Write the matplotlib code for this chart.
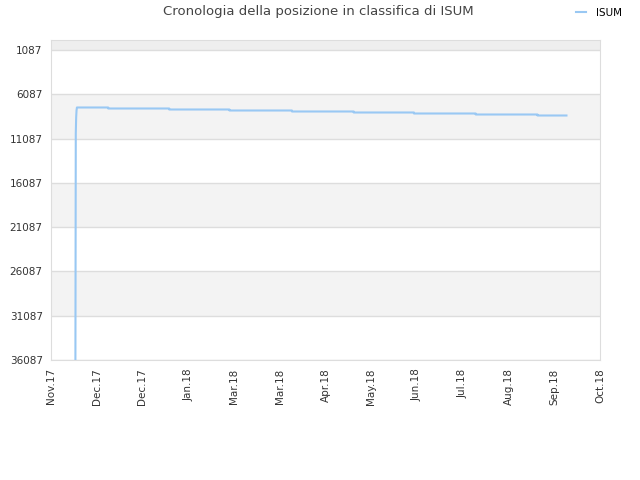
import datetime as dt
import matplotlib
matplotlib.use("Agg")
import matplotlib.pyplot as plt
import matplotlib.dates as mdates

# rank history (dates, positions)
dates = [
    dt.datetime(2017, 11, 17, 0), dt.datetime(2017, 11, 17, 6), dt.datetime(2017, 11, 17, 12),
    dt.datetime(2017, 11, 17, 18), dt.datetime(2017, 11, 18),
    dt.datetime(2017, 12, 8, 12), dt.datetime(2017, 12, 8, 12),
    dt.datetime(2018, 1, 17, 12), dt.datetime(2018, 1, 17, 12),
    dt.datetime(2018, 2, 26), dt.datetime(2018, 2, 26),
    dt.datetime(2018, 4, 8), dt.datetime(2018, 4, 8),
    dt.datetime(2018, 5, 18, 12), dt.datetime(2018, 5, 18, 12),
    dt.datetime(2018, 6, 27), dt.datetime(2018, 6, 27),
    dt.datetime(2018, 8, 6, 12), dt.datetime(2018, 8, 6, 12),
    dt.datetime(2018, 9, 16), dt.datetime(2018, 9, 16),
    dt.datetime(2018, 10, 5),
]
ranks = [
    37000, 10500, 8700, 7900, 7578,
    7578, 7691,
    7691, 7804,
    7804, 7917,
    7917, 8030,
    8030, 8143,
    8143, 8256,
    8256, 8369,
    8369, 8482,
    8482,
]
yticks = [1087, 6087, 11087, 16087, 21087, 26087, 31087, 36087]
tick_start = dt.datetime(2017, 11, 1)
tick_days = 30
n_ticks = 13

fig = plt.figure(figsize=(6.4, 4.8), dpi=100)
ax = fig.add_axes([51 / 640, 120 / 480, 549 / 640, 320 / 480])

ymin, ymax = -42, 36087
ax.set_ylim(ymax, ymin)
xticks = [tick_start + dt.timedelta(days=tick_days * i) for i in range(n_ticks)]
ax.set_xlim(xticks[0], xticks[-1])

# background bands
ax.axhspan(ymin, yticks[0], color="#eeeeee", zorder=0, lw=0)
for i in range(len(yticks) - 1):
    if i % 2 == 1:
        ax.axhspan(yticks[i], yticks[i + 1], color="#f3f3f3", zorder=0, lw=0)
for y in yticks:
    ax.axhline(y, color="#dddddd", lw=1, zorder=1)

line, = ax.plot(dates, ranks, color="#99c8f3", lw=1.5, zorder=3, label="ISUM")

ax.set_yticks(yticks)
ax.set_yticklabels([str(v) for v in yticks])
ax.set_xticks(xticks)
ax.xaxis.set_major_formatter(mdates.DateFormatter("%b.%y"))
plt.setp(ax.get_xticklabels(), rotation=90)
ax.tick_params(axis="both", length=0, labelsize=7.5, colors="#333333", pad=6)

for s in ax.spines.values():
    s.set_color("#dddddd")

fig.text(0.497, 0.975, "Cronologia della posizione in classifica di ISUM",
         ha="center", va="center", fontsize=9.5, color="#444444")
fig.legend(handles=[line], loc="center left", bbox_to_anchor=(576 / 640, 1 - 13 / 480),
           frameon=False, fontsize=7.5, handlelength=1.0, handletextpad=0.9,
           borderpad=0, borderaxespad=0)

fig.savefig("out.png", dpi=100)
